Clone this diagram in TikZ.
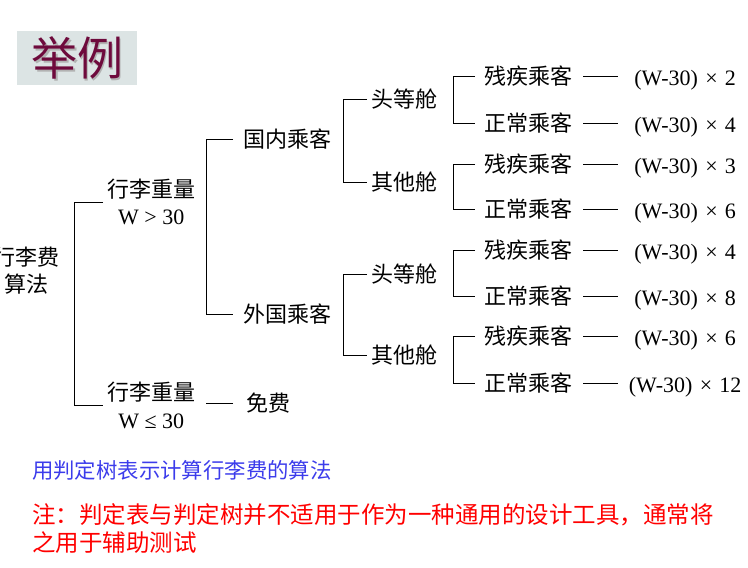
\documentclass[tikz,border=0pt]{standalone}
\usepackage{fontspec}
\setmainfont{Liberation Serif}
\newfontfamily\cjk{Noto Sans CJK SC}
\usetikzlibrary{positioning}
\definecolor{titlebg}{RGB}{220,228,228}
\definecolor{titlered}{RGB}{110,10,60}
\definecolor{noteblue}{RGB}{60,60,235}
\definecolor{notered}{RGB}{255,0,0}

\begin{document}
\begin{tikzpicture}[x=1pt, y=-1pt,
    cn/.style={font=\cjk\fontsize{22}{27}\selectfont, anchor=west, inner ysep=2pt},
    val/.style={font=\fontsize{22}{26}\selectfont, anchor=west, text width=124pt,
        align=center, inner xsep=5pt},
    link/.style={black, line width=0.9pt}]
    \useasboundingbox (0,0) rectangle (748,568);

    % Title
    \node[fill=titlebg, minimum width=120pt, minimum height=54pt, anchor=north west,
        inner sep=0] (titlebox) at (17,31) {};
    \node[text=gray!60, font=\cjk\fontsize{46}{50}\selectfont] (titleshadow) at (79,60) {举例};
    \node[text=titlered, font=\cjk\fontsize{46}{50}\selectfont] (title) at (77,58) {举例};

    % Root and first split
    \node[font=\cjk\fontsize{22}{27}\selectfont, align=center] (root) at (27,271) {行李费\\算法};
    \node[cn, align=center, inner xsep=4pt, font=\fontsize{22}{27}\selectfont] (w1) at (103,202)
        {{\cjk 行李重量}\\W > 30};
    \node[cn, align=center, inner xsep=4pt, font=\fontsize{22}{28}\selectfont] (w2) at (103,405)
        {{\cjk 行李重量}\\W ≤ 30};
    \draw[link] (w1.west) -- ++(-29,0) |- (w2.west);

    % Free of charge
    \node[cn, inner xsep=13pt] (free) at (233,403) {免费};
    \draw[link, shorten >=7pt] (free.west) -- (free.west -| w2.east);

    % Domestic / foreign
    \node[cn, inner xsep=10pt] (dom) at (233,139) {国内乘客};
    \node[cn, inner xsep=10pt] (frn) at (233,314) {外国乘客};
    \draw[link] (dom.west) -- ++(-27,0) |- (frn.west);

    % Cabin classes
    \node[cn, inner xsep=4pt] (c1) at (367,99) {头等舱};
    \node[cn, inner xsep=4pt] (c2) at (367,182) {其他舱};
    \node[cn, inner xsep=4pt] (c3) at (367,274) {头等舱};
    \node[cn, inner xsep=4pt] (c4) at (367,355) {其他舱};
    \draw[link] (c1.west) -- ++(-24,0) |- (c2.west);
    \draw[link] (c3.west) -- ++(-24,0) |- (c4.west);

    % Passengers and charges
    \foreach \i/\y/\t/\v in {1/76/残疾乘客/2, 2/123/正常乘客/4, 3/164/残疾乘客/3,
        4/209/正常乘客/6, 5/250/残疾乘客/4, 6/296/正常乘客/8, 7/336/残疾乘客/6,
        8/383/正常乘客/12} {
        \node[cn, inner xsep=9pt] (l\i) at (475,\y) {\t};
        \node[val] (v\i) at (618,\y+4) {(W-30) × \v};
        \draw[link, shorten <=2pt] (l\i.east) -- (l\i.east -| v\i.west);
    }
    \foreach \a/\b in {l1/l2, l3/l4, l5/l6, l7/l8} {
        \draw[link] (\a.west) -- ++(-22,0) |- (\b.west);
    }

    % Notes
    \node[anchor=west, inner sep=0, text=noteblue, font=\cjk\fontsize{21.4}{26}\selectfont]
        (note) at (32,470) {用判定树表示计算行李费的算法};
    \node[anchor=north west, inner sep=0, align=left, text=notered,
        font=\cjk\fontsize{23.5}{28}\selectfont] (remark) at (32,503)
        {注：判定表与判定树并不适用于作为一种通用的设计工具，通常将\\之用于辅助测试};
\end{tikzpicture}
\end{document}
